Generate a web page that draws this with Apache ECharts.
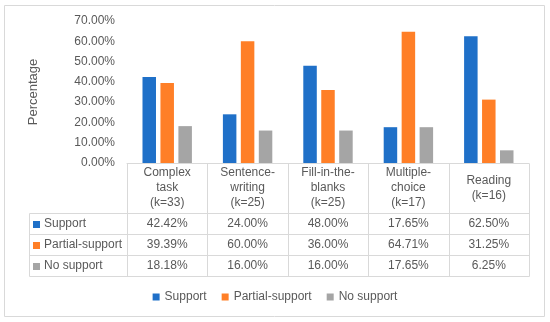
<!DOCTYPE html>
<html>
<head>
<meta charset="utf-8">
<script src="https://cdn.jsdelivr.net/npm/echarts@6/dist/echarts.min.js"></script>
<style>html,body{margin:0;padding:0;background:#fff;}#c{width:550px;height:322px;}</style>
</head>
<body>
<div id="c"></div>
<script>
var categories = ['Complex\ntask\n(k=33)', 'Sentence-\nwriting\n(k=25)', 'Fill-in-the-\nblanks\n(k=25)', 'Multiple-\nchoice\n(k=17)', 'Reading\n(k=16)'];
var seriesNames = ['Support', 'Partial-support', 'No support'];
var supportVals = [42.42, 24.00, 48.00, 17.65, 62.50];
var partialVals = [39.39, 60.00, 36.00, 64.71, 31.25];
var noSupportVals = [18.18, 16.00, 16.00, 17.65, 6.25];
var yTicks = [0, 10, 20, 30, 40, 50, 60, 70];

var colors = ['#1F70C8', '#FF7F27', '#A5A5A5'];
var allVals = [supportVals, partialVals, noSupportVals];
var textColor = '#595959';
var lineColor = '#D9D9D9';
var FONT = '"Liberation Sans", Arial, sans-serif';

var chart = echarts.init(document.getElementById('c'), null, {renderer: 'canvas'});
var gridLeft = 127, gridRight = 21, gridTop = 21, gridBottom = 159;

var option = {
  animation: false,
  color: colors,
  textStyle: {fontFamily: FONT},
  grid: {left: gridLeft, right: gridRight, top: gridTop, bottom: gridBottom, containLabel: false},
  legend: {
    data: seriesNames,
    bottom: 14,
    left: 'center',
    icon: 'rect',
    itemWidth: 7,
    itemHeight: 7,
    itemGap: 15,
    textStyle: {color: textColor, fontSize: 12, fontFamily: FONT}
  },
  xAxis: {
    type: 'category',
    data: categories,
    axisLine: {show: true, lineStyle: {color: lineColor, width: 1}},
    axisTick: {show: false},
    axisLabel: {
      color: textColor, fontSize: 12, fontFamily: FONT, lineHeight: 15,
      margin: 25, verticalAlign: 'middle', align: 'center', interval: 0
    }
  },
  yAxis: {
    type: 'value',
    min: yTicks[0],
    max: yTicks[yTicks.length - 1],
    interval: yTicks[1] - yTicks[0],
    name: 'Percentage',
    nameLocation: 'middle',
    nameGap: 87,
    nameTextStyle: {color: textColor, fontSize: 13, fontFamily: FONT},
    axisLine: {show: false},
    axisTick: {show: false},
    splitLine: {show: false},
    axisLabel: {
      color: textColor, fontSize: 12, fontFamily: FONT, margin: 12,
      formatter: function (v) { return v.toFixed(2) + '%'; }
    }
  },
  series: seriesNames.map(function (n, i) {
    return {
      name: n, type: 'bar', data: allVals[i],
      barWidth: 13.5, barGap: '33%',
      itemStyle: {color: colors[i]}
    };
  })
};
chart.setOption(option);

// Build data table beneath the axis using the chart's own scale
function buildTable() {
  var els = [];
  var bounds = [];
  var centers = [];
  for (var i = 0; i < categories.length; i++) {
    var c = chart.convertToPixel({xAxisIndex: 0}, i);
    centers.push(c);
  }
  var band = centers.length > 1 ? centers[1] - centers[0] : 80;
  for (var j = 0; j <= categories.length; j++) {
    bounds.push(Math.round(centers[0] - band / 2 + j * band) + 0.5);
  }
  var y0 = Math.round(chart.convertToPixel({yAxisIndex: 0}, 0)) + 0.5;
  var headerH = 50, rowH = 21;
  var rowsTop = y0 + headerH;
  var tableLeft = 29.5;
  var tableRight = bounds[bounds.length - 1];
  var tableBottom = rowsTop + rowH * seriesNames.length;
  var ls = {stroke: lineColor, lineWidth: 1};

  // outer chart border
  els.push({type: 'rect', shape: {x: 4.5, y: 5.5, width: 540, height: 311}, style: {fill: null, stroke: lineColor, lineWidth: 1}, silent: true});

  // vertical column boundaries
  bounds.forEach(function (x) {
    els.push({type: 'line', shape: {x1: x, y1: y0, x2: x, y2: tableBottom}, style: ls, silent: true});
  });
  els.push({type: 'line', shape: {x1: tableLeft, y1: rowsTop, x2: tableLeft, y2: tableBottom}, style: ls, silent: true});
  // horizontal row lines
  for (var r = 0; r <= seriesNames.length; r++) {
    var y = rowsTop + r * rowH;
    els.push({type: 'line', shape: {x1: tableLeft, y1: y, x2: tableRight, y2: y}, style: ls, silent: true});
  }
  // row headers and values
  seriesNames.forEach(function (n, r) {
    var cy = rowsTop + r * rowH + rowH / 2;
    els.push({type: 'rect', shape: {x: 33, y: Math.round(cy - 3.5), width: 7, height: 7}, style: {fill: colors[r]}, silent: true});
    els.push({type: 'text', x: 44, y: cy, style: {text: n, fill: textColor, font: '12px ' + FONT, textVerticalAlign: 'middle', textAlign: 'left', verticalAlign: 'middle', align: 'left'}, silent: true});
    allVals[r].forEach(function (v, i) {
      els.push({type: 'text', x: centers[i], y: cy, style: {text: v.toFixed(2) + '%', fill: textColor, font: '12px ' + FONT, textVerticalAlign: 'middle', textAlign: 'center', verticalAlign: 'middle', align: 'center'}, silent: true});
    });
  });
  chart.setOption({graphic: {elements: els}});
}
buildTable();
</script>
</body>
</html>
